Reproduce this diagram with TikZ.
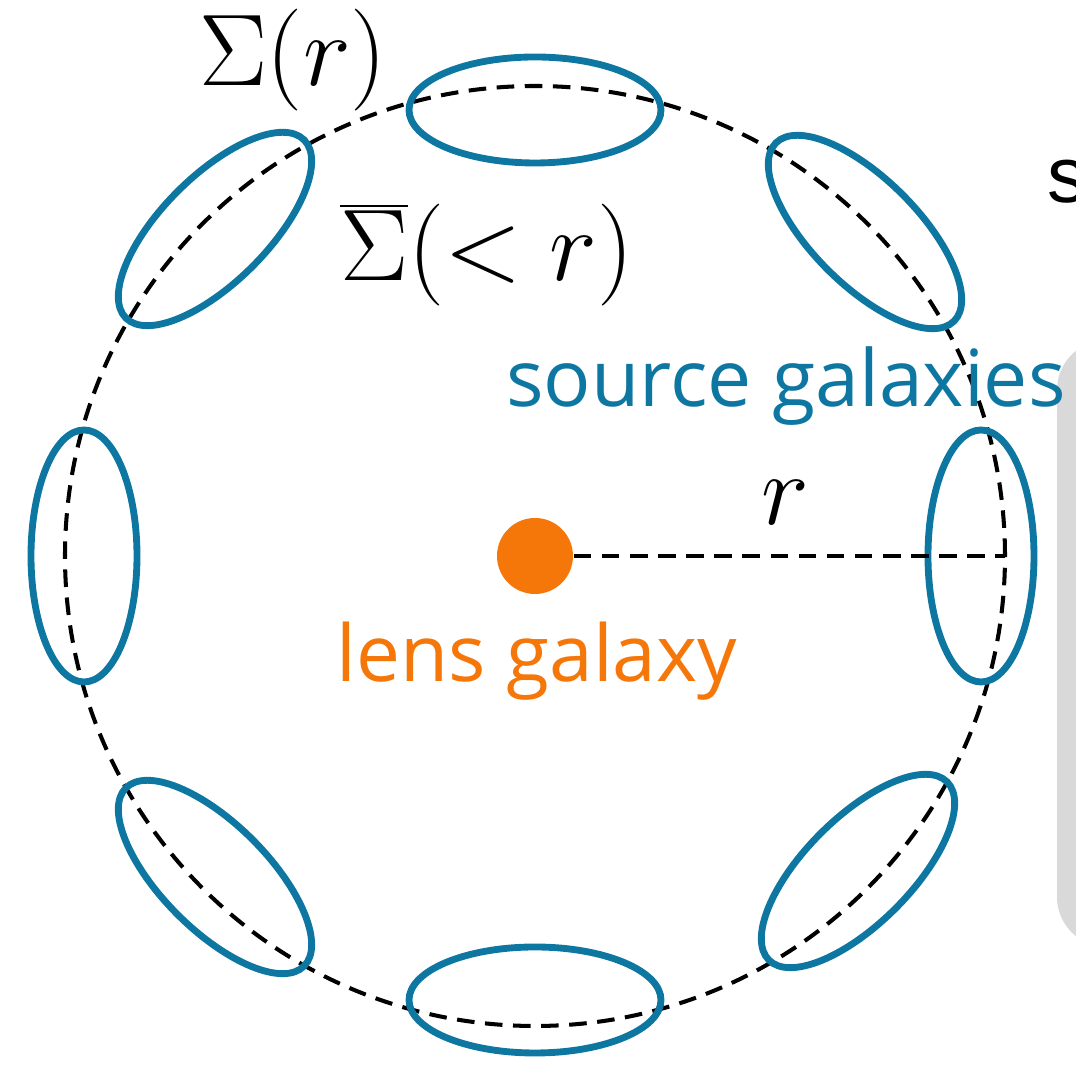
\RequirePackage{fix-cm}
\documentclass[tikz,border=0pt]{standalone}
\usepackage{fontspec}
\usepackage{tikz}
\newfontfamily\galfont{Open Sans}
\newfontfamily\edgefont{Liberation Sans}
\definecolor{srcblue}{HTML}{0E77A1}
\definecolor{lensorange}{HTML}{F5770A}
\definecolor{panelgray}{HTML}{D9D9D9}

\begin{document}
\begin{tikzpicture}[
    srcgal/.style={draw=srcblue, line width=1.95pt},
    ring/.style={dash pattern=on 5pt off 3pt, line width=1.15pt},
    mathlbl/.style={font=\fontsize{29}{35}\selectfont, inner sep=0pt}]
  % Khung hình
  \useasboundingbox (-5.35,-5.10) rectangle (5.41,5.56);
  \clip (-5.35,-5.10) rectangle (5.41,5.56);
  % 1. Phần bảng xám bên phải (bị cắt)
  \fill[panelgray, rounded corners=0.5cm] (5.22,-3.91) rectangle (6.5,2.16);
  \node[anchor=base west, inner sep=0pt, font=\edgefont\fontsize{22.5}{26}\selectfont] (edge) at (5.12,3.53) {s};
  % 2. Vòng tròn nét đứt
  \coordinate (O) at (0,0);
  \draw[ring] (O) circle (4.70);
  % 3. Các thiên hà nguồn (hình elip)
  \foreach \cx/\cy/\ang in {0/4.46/0, 0/-4.44/0, -4.51/0/90, 4.46/0/90,
      -3.20/3.27/45, 3.30/3.24/-45, -3.20/-3.21/-45, 3.23/-3.15/45}
    \draw[srcgal, rotate around={\ang:(\cx,\cy)}] (\cx,\cy) ellipse [x radius=1.26, y radius=0.53];
  % 4. Thiên hà thấu kính và bán kính r
  \node[circle, fill=lensorange, minimum size=0.76cm, inner sep=0pt] (lens) at (O) {};
  \coordinate (redge) at (0:4.70);
  \draw[ring] (lens) -- (redge);
  \node[mathlbl, anchor=base] (rlbl) at (2.50,0.31) {$r$};
  % 5. Nhãn
  \node[mathlbl] (sigma) at (-2.42,4.96) {$\Sigma(r)$};
  \node[mathlbl] (sigmabar) at (-0.48,3.01) {$\overline{\Sigma}(<r)$};
  \node[anchor=base, inner sep=0pt, text=srcblue, font=\galfont\fontsize{22.4}{26}\selectfont] (srclbl) at (2.51,1.49) {source galaxies};
  \node[anchor=base, inner sep=0pt, text=lensorange, font=\galfont\fontsize{22.3}{26}\selectfont] (lenslbl) at (0.02,-1.26) {lens galaxy};
\end{tikzpicture}
\end{document}
